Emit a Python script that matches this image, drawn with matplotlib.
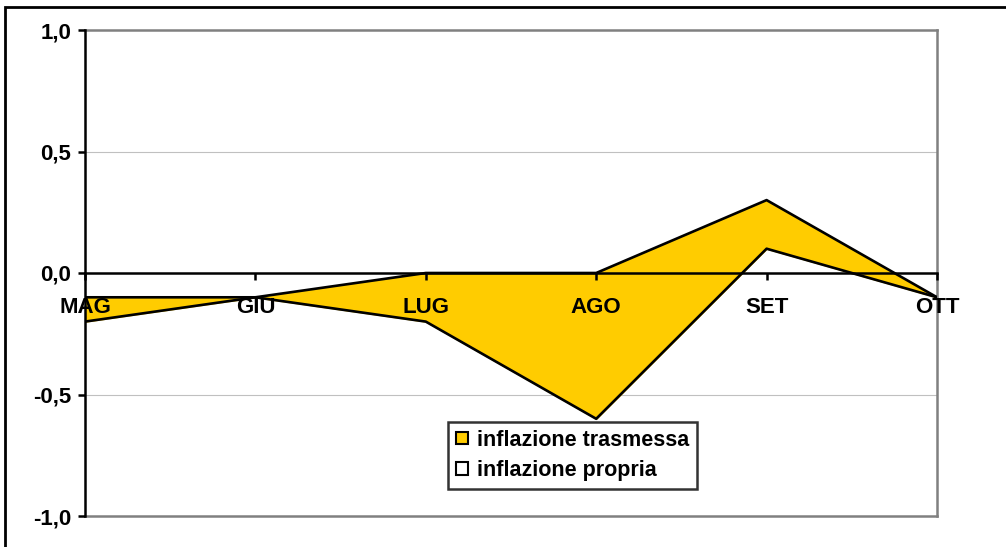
import matplotlib.pyplot as plt
from matplotlib.patches import Patch, Rectangle
from matplotlib.ticker import FuncFormatter

plt.rcParams['font.family'] = ['Liberation Sans', 'DejaVu Sans']
plt.rcParams['font.weight'] = 'bold'

# Data (stacked: propria first, trasmessa on top)
mesi = ["MAG", "GIU", "LUG", "AGO", "SET", "OTT"]
propria = [-0.1, -0.1, 0.0, 0.0, 0.3, -0.1]
trasmessa = [-0.1, 0.0, -0.2, -0.6, -0.2, 0.0]
y_ticks = [-1.0, -0.5, 0.0, 0.5, 1.0]

x = list(range(len(mesi)))
totale = [p + t for p, t in zip(propria, trasmessa)]

fig = plt.figure(figsize=(10.06, 5.47), dpi=100)
ax = fig.add_axes([85 / 1006, 31 / 547, 852 / 1006, 486 / 547])

yellow = "#FFCC00"
# gridlines drawn by hand so the axis labels can sit above the fills
ax.hlines([0.5, -0.5], 0, len(mesi) - 1, color="#c0c0c0", lw=0.8, zorder=0)
ax.fill_between(x, 0, propria, color="white", zorder=2)
ax.fill_between(x, propria, totale, color=yellow, zorder=2)
ax.plot(x, propria, color="black", lw=1.9, zorder=3)
ax.plot(x, totale, color="black", lw=1.9, zorder=3)

ax.set_xlim(0, len(mesi) - 1)
ax.set_ylim(-1, 1)
ax.set_yticks(y_ticks)
ax.yaxis.set_major_formatter(FuncFormatter(lambda v, p: f"{v:.1f}".replace(".", ",")))
ax.set_xticks(x)
ax.set_xticklabels(mesi)
ax.xaxis.set_zorder(5)
ax.yaxis.set_zorder(5)

ax.spines["bottom"].set_position(("data", 0))
ax.spines["bottom"].set_color("black")
ax.spines["bottom"].set_linewidth(1.8)
ax.spines["bottom"].set_zorder(4)
ax.spines["left"].set_color("black")
ax.spines["left"].set_linewidth(1.8)
ax.spines["left"].set_zorder(4)
for s in ["top", "right"]:
    ax.spines[s].set_color("#808080")
    ax.spines[s].set_linewidth(1.8)
ax.axhline(-1, color="#808080", lw=1.8, clip_on=False, zorder=1)

ax.tick_params(axis="x", direction="out", length=5, width=1.8, pad=12, labelsize=16)
ax.tick_params(axis="y", direction="out", length=5, width=1.8, pad=5, labelsize=16)
for lbl in ax.get_xticklabels() + ax.get_yticklabels():
    lbl.set_fontweight("bold")

handles = [
    Patch(facecolor=yellow, edgecolor="black", lw=1.5, label="inflazione trasmessa"),
    Patch(facecolor="white", edgecolor="black", lw=1.5, label="inflazione propria"),
]
leg = fig.legend(handles=handles, loc="upper left",
                 bbox_to_anchor=(448 / 1006, 1 - 422 / 547),
                 frameon=True, fancybox=False, edgecolor="black",
                 prop={"weight": "bold", "size": 15.5},
                 handlelength=0.6, handleheight=0.5, handletextpad=0.4,
                 borderpad=0.35, labelspacing=0.45, borderaxespad=0)
leg.get_frame().set_linewidth(1.8)

fig.patches.append(Rectangle((5 / 1006, -0.1), 1.2, 1.1 - 7 / 547,
                             transform=fig.transFigure, fill=False,
                             edgecolor="black", lw=2, zorder=10))

plt.savefig("out.png", dpi=100)
